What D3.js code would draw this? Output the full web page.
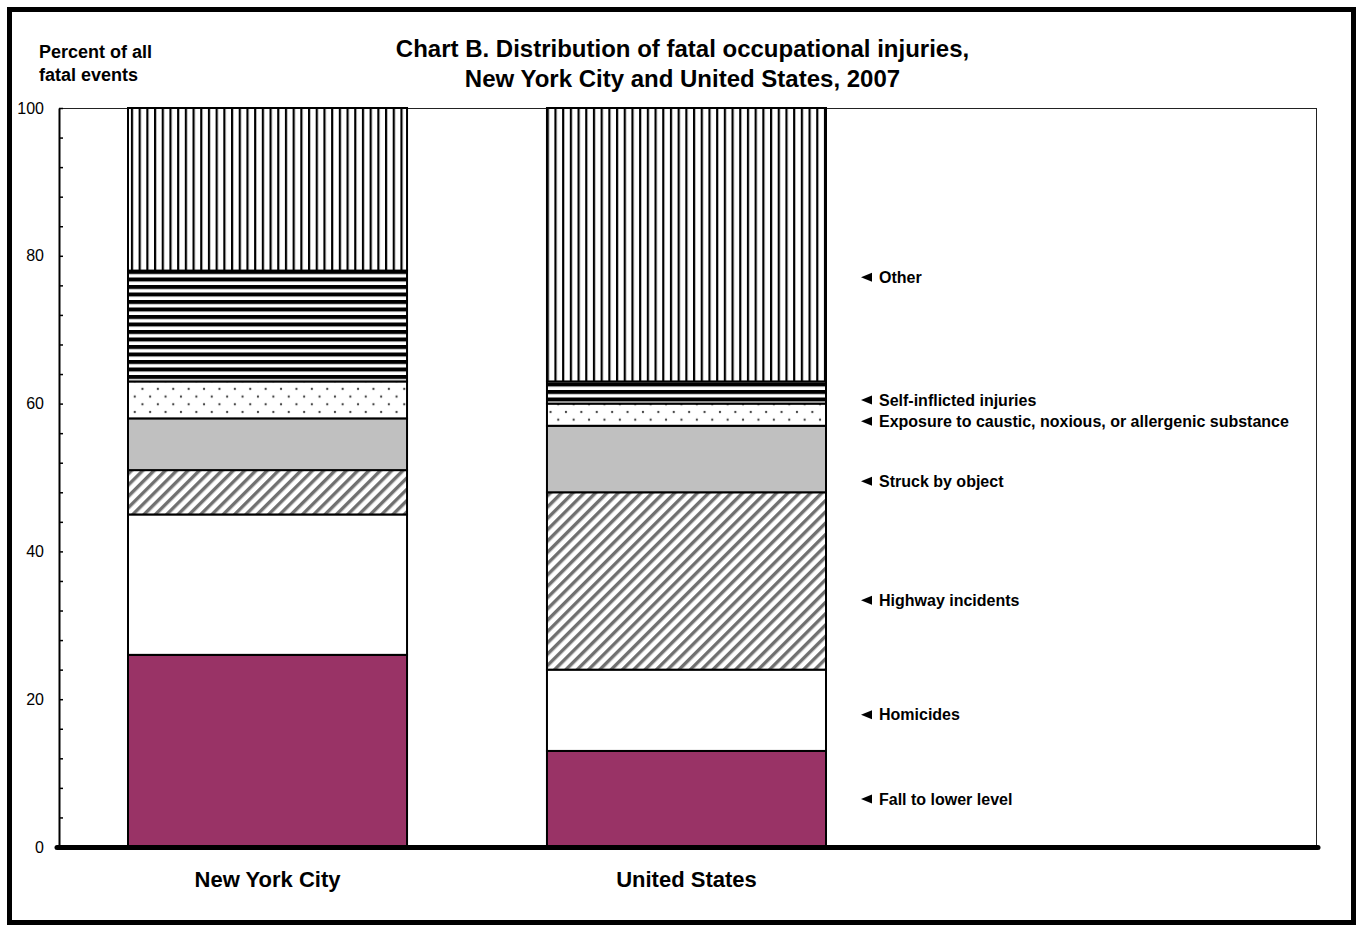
<!DOCTYPE html>
<html>
<head>
<meta charset="utf-8">
<script src="https://cdn.jsdelivr.net/npm/d3@7"></script>
<style>
  body { margin: 0; background: #fff; }
  svg text { font-family: "Liberation Sans", Arial, sans-serif; fill: #000; }
</style>
</head>
<body>
<svg id="chart" width="1356" height="926"></svg>
<script>
/*******************************************************************************************/
// Data (percent of all fatal events, bottom segment first)

var categories = ['New York City', 'United States'];
var causes = ['Fall to lower level', 'Homicides', 'Highway incidents', 'Struck by object',
              'Exposure to caustic, noxious, or allergenic substance', 'Self-inflicted injuries', 'Other'];
var nycShares = [26, 19, 6, 7, 5, 15, 22];
var usShares  = [13, 11, 24, 9, 3, 3, 37];
var labelAt   = [6.5, 17.9, 33.4, 49.5, 57.6, 60.5, 77.1];   // where each side label points (percent)
var yLabels   = [0, 20, 40, 60, 80, 100];
var yMinorStep = 4;

var fills = ['#993366', '#ffffff', 'url(#diag)', '#c0c0c0', 'url(#dots)', 'url(#hlines)', 'url(#vlines)'];

/*************************************************/

var svg = d3.select('#chart');
var plot = { left: 59, right: 1317, top: 108, bottom: 847 };

var yScale = d3.scaleLinear().domain([0, 100]).range([plot.bottom, plot.top]);
var xScale = d3.scaleBand().domain(categories).range([128, 826]).paddingInner(0.334);

var table = categories.map(function(c, i){
  var row = { category: c };
  var vals = i == 0 ? nycShares : usShares;
  causes.forEach(function(k, j){ row[k] = vals[j]; });
  return row;
});
var series = d3.stack().keys(causes)(table);

/*************************************************/
// Patterns

var defs = svg.append('defs');

var p = defs.append('pattern').attr('id', 'vlines').attr('patternUnits', 'userSpaceOnUse')
  .attr('width', 7.7).attr('height', 10);
p.append('rect').attr('width', 7.7).attr('height', 10).attr('fill', '#fff');
p.append('rect').attr('x', 0).attr('width', 2.2).attr('height', 10).attr('fill', '#000');

p = defs.append('pattern').attr('id', 'hlines').attr('patternUnits', 'userSpaceOnUse')
  .attr('width', 10).attr('height', 7.5);
p.append('rect').attr('width', 10).attr('height', 7.5).attr('fill', '#fff');
p.append('rect').attr('y', 0).attr('width', 10).attr('height', 4).attr('fill', '#000');

p = defs.append('pattern').attr('id', 'dots').attr('patternUnits', 'userSpaceOnUse')
  .attr('width', 15.4).attr('height', 15.4);
p.append('rect').attr('width', 15.4).attr('height', 15.4).attr('fill', '#fff');
p.append('circle').attr('cx', 3.85).attr('cy', 3.85).attr('r', 1.15).attr('fill', '#444');
p.append('circle').attr('cx', 11.55).attr('cy', 11.55).attr('r', 1.15).attr('fill', '#444');

p = defs.append('pattern').attr('id', 'diag').attr('patternUnits', 'userSpaceOnUse')
  .attr('width', 8).attr('height', 8).attr('patternTransform', 'rotate(45)');
p.append('rect').attr('width', 8).attr('height', 8).attr('fill', '#fff');
p.append('rect').attr('width', 3.4).attr('height', 8).attr('fill', '#707070');

/*************************************************/
// Outer frame and titles

svg.append('rect').attr('x', 9.5).attr('y', 9.5).attr('width', 1344).attr('height', 913)
  .attr('fill', '#fff').attr('stroke', '#000').attr('stroke-width', 5);

var title = svg.append('text').attr('text-anchor', 'middle')
  .style('font-size', '24px').style('font-weight', 'bold');
title.append('tspan').attr('x', 682.5).attr('y', 57).text('Chart B. Distribution of fatal occupational injuries,');
title.append('tspan').attr('x', 682.5).attr('y', 87).text('New York City and United States, 2007');

var ytitle = svg.append('text').style('font-size', '18px').style('font-weight', 'bold');
ytitle.append('tspan').attr('x', 39).attr('y', 58).text('Percent of all');
ytitle.append('tspan').attr('x', 39).attr('y', 81).text('fatal events');

/*************************************************/
// Plot frame

svg.append('line').attr('x1', plot.left).attr('x2', plot.right).attr('y1', plot.top + 0.5).attr('y2', plot.top + 0.5)
  .attr('stroke', '#222').attr('stroke-width', 1);
svg.append('line').attr('x1', plot.right - 0.5).attr('x2', plot.right - 0.5).attr('y1', plot.top).attr('y2', plot.bottom)
  .attr('stroke', '#222').attr('stroke-width', 1);

/*************************************************/
// Bars

svg.append('g').selectAll('g').data(series).enter().append('g')
  .attr('fill', function(d, i){ return fills[i]; })
  .selectAll('rect').data(function(d){ return d; }).enter().append('rect')
  .attr('x', function(d){ return xScale(d.data.category); })
  .attr('y', function(d){ return yScale(d[1]); })
  .attr('width', xScale.bandwidth())
  .attr('height', function(d){ return yScale(d[0]) - yScale(d[1]); })
  .attr('stroke', '#000').attr('stroke-width', 2);

/*************************************************/
// Axes

var yAxis = svg.append('g').attr('transform', 'translate(' + plot.left + ',0)')
  .call(d3.axisLeft(yScale)
    .tickValues(d3.range(0, 101, yMinorStep))
    .tickSizeInner(-4).tickSizeOuter(0).tickPadding(15)
    .tickFormat(function(d){ return yLabels.indexOf(d) >= 0 ? d : ''; }));
yAxis.select('.domain').attr('stroke', '#000').attr('stroke-width', 2);
yAxis.selectAll('.tick line').attr('stroke', '#000').attr('stroke-width', 1.5);
yAxis.selectAll('.tick text').style('font-size', '16px').style('font-family', '"Liberation Sans", Arial, sans-serif')
  .attr('fill', '#000');

svg.append('line').attr('x1', plot.left - 2).attr('x2', plot.right + 1)
  .attr('y1', plot.bottom + 0.5).attr('y2', plot.bottom + 0.5)
  .attr('stroke', '#000').attr('stroke-width', 5).attr('stroke-linecap', 'round');

svg.append('g').selectAll('text').data(categories).enter().append('text')
  .attr('x', function(d){ return xScale(d) + xScale.bandwidth() / 2; })
  .attr('y', 887).attr('text-anchor', 'middle')
  .style('font-size', '22px').style('font-weight', 'bold')
  .text(function(d){ return d; });

/*************************************************/
// Side labels

var labelX = xScale(categories[1]) + xScale.bandwidth() + 35;
var lab = svg.append('g').selectAll('g').data(causes).enter().append('g')
  .attr('transform', function(d, i){ return 'translate(' + labelX + ',' + yScale(labelAt[i]) + ')'; });
lab.append('path').attr('d', 'M0,0L11,-4.5L11,4.5Z').attr('fill', '#000');
lab.append('text').attr('x', 18).attr('dy', '0.36em')
  .style('font-size', '16px').style('font-weight', 'bold')
  .text(function(d){ return d; });
</script>
</body>
</html>
